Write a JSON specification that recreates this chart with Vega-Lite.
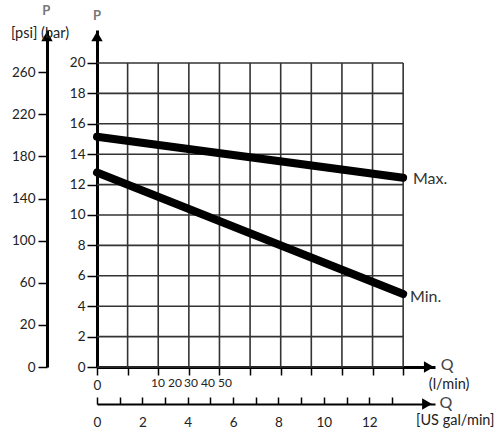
{
  "$schema": "https://vega.github.io/schema/vega-lite/v6.json",
  "width": 338,
  "height": 337,
  "autosize": {"type": "none"},
  "padding": {"left": 97, "top": 30, "right": 63, "bottom": 65},
  "background": "white",
  "config": {
    "view": {"stroke": null},
    "font": "Lato",
    "axis": {"labelFont": "Lato", "labelFontSize": 13.5, "labelColor": "#222", "domainColor": "#000", "tickColor": "#000", "grid": false, "labelFlush": false, "labelOverlap": false}
  },
  "datasets": {
    "hgrid": [
      {"q": 0, "q2": 50, "bar": 0}, {"q": 0, "q2": 50, "bar": 2}, {"q": 0, "q2": 50, "bar": 4},
      {"q": 0, "q2": 50, "bar": 6}, {"q": 0, "q2": 50, "bar": 8}, {"q": 0, "q2": 50, "bar": 10},
      {"q": 0, "q2": 50, "bar": 12}, {"q": 0, "q2": 50, "bar": 14}, {"q": 0, "q2": 50, "bar": 16},
      {"q": 0, "q2": 50, "bar": 18}, {"q": 0, "q2": 50, "bar": 20}
    ],
    "vgrid": [
      {"q": 5, "bar": 0, "bar2": 20}, {"q": 10, "bar": 0, "bar2": 20}, {"q": 15, "bar": 0, "bar2": 20},
      {"q": 20, "bar": 0, "bar2": 20}, {"q": 25, "bar": 0, "bar2": 20}, {"q": 30, "bar": 0, "bar2": 20},
      {"q": 35, "bar": 0, "bar2": 20}, {"q": 40, "bar": 0, "bar2": 20}, {"q": 45, "bar": 0, "bar2": 20},
      {"q": 50, "bar": 0, "bar2": 20}
    ],
    "curves": [
      {"curve": "Max.", "q": 0, "bar": 15.15},
      {"curve": "Max.", "q": 50, "bar": 12.45},
      {"curve": "Min.", "q": 0, "bar": 12.8},
      {"curve": "Min.", "q": 50, "bar": 4.8}
    ],
    "arrowsUp": [
      {"axis": "bar", "q": 0, "bar": 21.75},
      {"axis": "psi", "q": -8.17, "bar": 21.75}
    ],
    "arrowsRight": [
      {"axis": "l/min", "q": 54.2, "bar": 0},
      {"axis": "US gal/min", "q": 53.9, "bar": -2.43}
    ],
    "curveLabels": [
      {"label": "Max.", "q": 51.6, "bar": 12.37},
      {"label": "Min.", "q": 51.1, "bar": 4.6}
    ],
    "pLetters": [
      {"label": "P", "q": -8.3, "bar": 23.4},
      {"label": "P", "q": 0, "bar": 23.1}
    ],
    "qLetters": [
      {"label": "Q", "q": 57.2, "bar": 0.1},
      {"label": "Q", "q": 57.0, "bar": -2.35}
    ],
    "unitLabels": [
      {"label": "[psi] (bar)", "q": -9.3, "bar": 21.92},
      {"label": "(l/min)", "q": 57.5, "bar": -1.2},
      {"label": "[US gal/min]", "q": 58.5, "bar": -3.55}
    ],
    "flowLabels": [
      {"label": "10", "q": 9.97, "bar": -1.05},
      {"label": "20", "q": 12.75, "bar": -1.05},
      {"label": "30", "q": 15.36, "bar": -1.05},
      {"label": "40", "q": 18.14, "bar": -1.05},
      {"label": "50", "q": 20.9, "bar": -1.05}
    ],
    "psiTicks": [
      {"slot": 0, "psi": 0}, {"slot": 1, "psi": 20}, {"slot": 2, "psi": 60}, {"slot": 3, "psi": 100},
      {"slot": 4, "psi": 140}, {"slot": 5, "psi": 180}, {"slot": 6, "psi": 220}, {"slot": 7, "psi": 260}
    ],
    "galTicks": [
      {"gal": 0}, {"gal": 2}, {"gal": 4}, {"gal": 6}, {"gal": 8}, {"gal": 10}, {"gal": 12}
    ]
  },
  "layer": [
    {
      "encoding": {
        "x": {
          "field": "q", "type": "quantitative",
          "scale": {"domain": [0, 55.2], "nice": false, "zero": false},
          "axis": {"orient": "bottom", "title": null, "values": [0, 5, 10, 15, 20, 25, 30, 35, 40, 45, 50],
                   "labelExpr": "datum.value == 0 ? '0' : ''", "domainWidth": 3, "tickSize": 8, "tickWidth": 1.5, "labelPadding": 3}
        },
        "y": {
          "field": "bar", "type": "quantitative",
          "scale": {"domain": [0, 22.17], "nice": false, "zero": false},
          "axis": {"orient": "left", "title": null, "values": [0, 2, 4, 6, 8, 10, 12, 14, 16, 18, 20],
                   "domainWidth": 3, "tickSize": 10, "tickWidth": 1.5, "labelPadding": 2}
        }
      },
      "layer": [
        {"data": {"name": "hgrid"}, "mark": {"type": "rule", "color": "#333", "strokeWidth": 1.6}, "encoding": {"x2": {"field": "q2"}}},
        {"data": {"name": "vgrid"}, "mark": {"type": "rule", "color": "#333", "strokeWidth": 1.6}, "encoding": {"y2": {"field": "bar2"}}},
        {"data": {"name": "curves"}, "mark": {"type": "line", "color": "#000", "strokeWidth": 8, "strokeCap": "round"}, "encoding": {"detail": {"field": "curve"}}},
        {"data": {"name": "arrowsUp"}, "mark": {"type": "point", "shape": "triangle-up", "filled": true, "color": "#000", "size": 130, "opacity": 1}},
        {"data": {"name": "arrowsRight"}, "mark": {"type": "point", "shape": "triangle-right", "filled": true, "color": "#000", "size": 130, "opacity": 1}},
        {"data": {"name": "curveLabels"}, "mark": {"type": "text", "align": "left", "baseline": "middle", "fontSize": 16, "color": "#333", "font": "Lato"}, "encoding": {"text": {"field": "label"}}},
        {"data": {"name": "pLetters"}, "mark": {"type": "text", "align": "center", "baseline": "middle", "fontSize": 13, "color": "#777", "font": "Lato", "fontWeight": "bold"}, "encoding": {"text": {"field": "label"}}},
        {"data": {"name": "qLetters"}, "mark": {"type": "text", "align": "center", "baseline": "middle", "fontSize": 16, "color": "#444", "font": "Lato"}, "encoding": {"text": {"field": "label"}}},
        {"data": {"name": "unitLabels"}, "mark": {"type": "text", "align": "center", "baseline": "middle", "fontSize": 14.5, "color": "#222", "font": "Lato"}, "encoding": {"text": {"field": "label"}}},
        {"data": {"name": "flowLabels"}, "mark": {"type": "text", "align": "center", "baseline": "middle", "fontSize": 12, "color": "#222", "font": "Lato"}, "encoding": {"text": {"field": "label"}}}
      ]
    },
    {
      "data": {"name": "psiTicks"},
      "mark": {"type": "point", "opacity": 0},
      "encoding": {
        "y": {
          "field": "slot", "type": "quantitative",
          "scale": {"domain": [0, 8], "nice": false, "zero": false},
          "axis": {"orient": "left", "offset": 50, "title": null, "values": [0, 1, 2, 3, 4, 5, 6, 7],
                   "labelExpr": "['0','20','60','100','140','180','220','260'][datum.value]",
                   "domainWidth": 3, "tickSize": 9, "tickWidth": 1.5, "labelPadding": 3}
        }
      }
    },
    {
      "data": {"name": "galTicks"},
      "mark": {"type": "point", "opacity": 0},
      "encoding": {
        "x": {
          "field": "gal", "type": "quantitative",
          "scale": {"domain": [0, 14.9], "nice": false, "zero": false},
          "axis": {"orient": "bottom", "offset": 37, "title": null, "values": [0, 1, 2, 3, 4, 5, 6, 7, 8, 9, 10, 11, 12, 13],
                   "labelExpr": "datum.value % 2 == 0 ? datum.label : ''",
                   "domainWidth": 2, "tickSize": -7, "tickWidth": 1.5, "labelPadding": 18}
        }
      }
    }
  ],
  "resolve": {"scale": {"x": "independent", "y": "independent"}}
}
